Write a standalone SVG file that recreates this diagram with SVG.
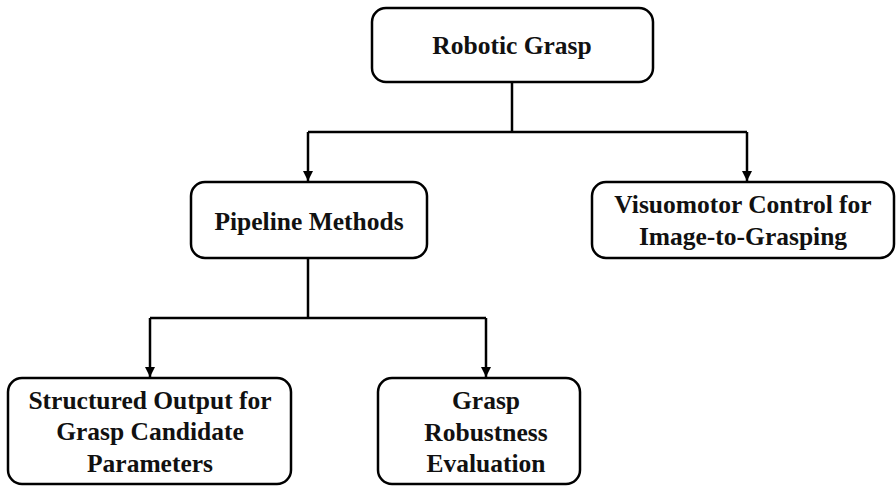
<svg xmlns="http://www.w3.org/2000/svg" width="896" height="486" viewBox="0 0 896 486">
<defs>
<style>
.box{fill:#fff;stroke:#000;stroke-width:2.5}
.t{font-family:"Liberation Serif","Times New Roman",serif;font-weight:bold;font-size:25.5px;text-anchor:middle;fill:#111}
.c{fill:none;stroke:#000;stroke-width:2.5}
</style>
<marker id="ah" viewBox="0 0 10 10" refX="10" refY="5" markerWidth="10" markerHeight="10" markerUnits="userSpaceOnUse" orient="auto">
<path d="M0,0 L10,5 L0,10 Z" fill="#000"/>
</marker>
</defs>
<rect width="896" height="486" fill="#fff"/>
<g id="connectors">
<path class="c" d="M512,82 V132"/>
<path class="c" d="M308,132 H747"/>
<path class="c" d="M308,132 V181" marker-end="url(#ah)"/>
<path class="c" d="M747,132 V181" marker-end="url(#ah)"/>
<path class="c" d="M308,258 V318"/>
<path class="c" d="M150,318 H486"/>
<path class="c" d="M150,318 V377" marker-end="url(#ah)"/>
<path class="c" d="M486,318 V377" marker-end="url(#ah)"/>
</g>
<g id="robotic-grasp">
<rect class="box" x="372" y="8" width="281" height="74" rx="14"/>
<text class="t" x="512" y="54">Robotic Grasp</text>
</g>
<g id="pipeline-methods">
<rect class="box" x="191" y="182" width="236" height="76" rx="14"/>
<text class="t" x="309" y="230">Pipeline Methods</text>
</g>
<g id="visuomotor">
<rect class="box" x="592" y="182" width="302" height="76" rx="14"/>
<text class="t" x="743" y="213">Visuomotor Control for</text>
<text class="t" x="743" y="245">Image-to-Grasping</text>
</g>
<g id="structured-output">
<rect class="box" x="8" y="378" width="283" height="106" rx="14"/>
<text class="t" x="150" y="409">Structured Output for</text>
<text class="t" x="150" y="440">Grasp Candidate</text>
<text class="t" x="150" y="472">Parameters</text>
</g>
<g id="grasp-robustness">
<rect class="box" x="378" y="378" width="202" height="106" rx="14"/>
<text class="t" x="486" y="409">Grasp</text>
<text class="t" x="486" y="441">Robustness</text>
<text class="t" x="486" y="472">Evaluation</text>
</g>
</svg>
